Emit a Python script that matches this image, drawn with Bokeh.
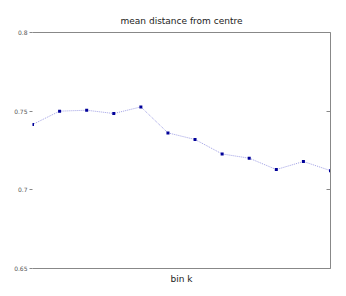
from bokeh.plotting import figure
from bokeh.models import Range1d, LinearAxis, FixedTicker, ColumnDataSource
from bokeh.embed import file_html
from bokeh.resources import INLINE

bins = list(range(12))
mean_dist = [0.7415, 0.7500, 0.7506, 0.7485, 0.7527, 0.7362, 0.7320, 0.7228, 0.7201, 0.7129, 0.7180, 0.7122]
y_ticks = [0.65, 0.7, 0.75, 0.8]
y_labels = {0.65: "0.65", 0.7: "0.7", 0.75: "0.75", 0.8: "0.8"}

src = ColumnDataSource(dict(x=bins, y=mean_dist))

p = figure(width=346, height=296, output_backend="svg", toolbar_location=None,
           x_range=Range1d(bins[0], bins[-1]), y_range=Range1d(y_ticks[0], y_ticks[-1]),
           title="mean distance from centre", x_axis_location=None, y_axis_location=None,
           min_border_left=32, min_border_right=16, min_border_top=32, min_border_bottom=28)
p.title.align = "center"
p.title.text_font = "DejaVu Sans"
p.title.text_font_size = "9px"
p.title.text_font_style = "normal"
p.title.text_color = "#222222"
p.title.standoff = 13
p.outline_line_color = None
p.xgrid.visible = False
p.ygrid.visible = False

gray = "#888888"

left = LinearAxis(ticker=FixedTicker(ticks=y_ticks), major_label_overrides=y_labels)
left.axis_line_color = None
left.major_tick_out = 3
left.major_tick_in = 0
left.major_tick_line_color = gray
left.minor_tick_line_color = None
left.major_label_text_font = "DejaVu Sans"
left.major_label_text_font_size = "6px"
left.major_label_text_color = "#555555"
left.major_label_standoff = 2
p.add_layout(left, "left")

right = LinearAxis(ticker=FixedTicker(ticks=y_ticks))
right.axis_line_color = gray
right.major_tick_in = 4
right.major_tick_out = 0
right.major_tick_line_color = gray
right.minor_tick_line_color = None
right.major_label_text_font_size = "1px"
right.major_label_text_color = None
right.major_label_standoff = 0
p.add_layout(right, "right")

bottom = LinearAxis(ticker=FixedTicker(ticks=[]), axis_label="bin k")
bottom.axis_line_color = gray
bottom.major_tick_line_color = None
bottom.minor_tick_line_color = None
bottom.major_label_text_font_size = "1px"
bottom.major_label_text_color = None
bottom.axis_label_text_font = "DejaVu Sans"
bottom.axis_label_text_font_size = "9px"
bottom.axis_label_text_font_style = "normal"
bottom.axis_label_text_color = "#222222"
bottom.axis_label_standoff = 5
p.add_layout(bottom, "below")

top = LinearAxis(ticker=FixedTicker(ticks=[]))
top.axis_line_color = gray
top.major_tick_line_color = None
top.minor_tick_line_color = None
top.major_label_text_font_size = "1px"
top.major_label_text_color = None
p.add_layout(top, "above")

p.line("x", "y", source=src, line_color="#8888dd", line_width=1, line_dash="1 1", line_alpha=0.8)
p.scatter("x", "y", source=src, marker="square", size=3, fill_color="#000099", line_color=None)

open("out.html", "w").write(file_html(p, INLINE))
